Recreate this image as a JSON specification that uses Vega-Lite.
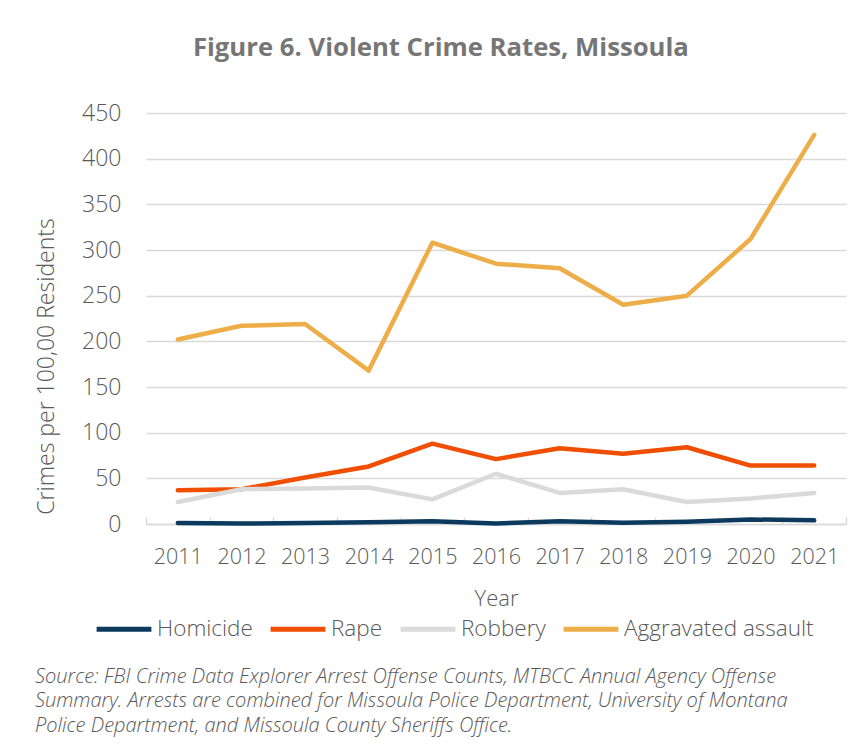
{
  "$schema": "https://vega.github.io/schema/vega-lite/v6.json",
  "background": "white",
  "padding": {"left": 34, "top": 35, "right": 15, "bottom": 10},
  "title": {"text": "Figure 6. Violent Crime Rates, Missoula", "fontSize": 25.7, "font": "Open Sans", "fontWeight": "bold", "color": "#767676", "anchor": "middle", "offset": 40},
  "vconcat": [
    {
      "width": 700,
      "height": 411,
      "title": {
        "text": [
          "Source: FBI Crime Data Explorer Arrest Offense Counts, MTBCC Annual Agency Offense",
          "Summary. Arrests are combined for Missoula Police Department, University of Montana",
          "Police Department, and Missoula County Sheriffs Office."
        ],
        "orient": "bottom",
        "anchor": "start",
        "font": "Open Sans",
        "fontStyle": "italic",
        "fontSize": 20,
        "fontWeight": 300,
        "color": "#595959",
        "lineHeight": 24.5,
        "offset": 57
      },
      "data": {
        "values": [
          {"year": "2011", "crime": "Homicide", "value": 1},
          {"year": "2012", "crime": "Homicide", "value": 0.5},
          {"year": "2013", "crime": "Homicide", "value": 1},
          {"year": "2014", "crime": "Homicide", "value": 2},
          {"year": "2015", "crime": "Homicide", "value": 3},
          {"year": "2016", "crime": "Homicide", "value": 0.5},
          {"year": "2017", "crime": "Homicide", "value": 3},
          {"year": "2018", "crime": "Homicide", "value": 1.5},
          {"year": "2019", "crime": "Homicide", "value": 2.5},
          {"year": "2020", "crime": "Homicide", "value": 5},
          {"year": "2021", "crime": "Homicide", "value": 4},
          {"year": "2011", "crime": "Rape", "value": 37},
          {"year": "2012", "crime": "Rape", "value": 38},
          {"year": "2013", "crime": "Rape", "value": 51},
          {"year": "2014", "crime": "Rape", "value": 63},
          {"year": "2015", "crime": "Rape", "value": 88},
          {"year": "2016", "crime": "Rape", "value": 71},
          {"year": "2017", "crime": "Rape", "value": 83},
          {"year": "2018", "crime": "Rape", "value": 77},
          {"year": "2019", "crime": "Rape", "value": 84},
          {"year": "2020", "crime": "Rape", "value": 64},
          {"year": "2021", "crime": "Rape", "value": 64},
          {"year": "2011", "crime": "Robbery", "value": 24},
          {"year": "2012", "crime": "Robbery", "value": 38},
          {"year": "2013", "crime": "Robbery", "value": 39},
          {"year": "2014", "crime": "Robbery", "value": 40},
          {"year": "2015", "crime": "Robbery", "value": 27},
          {"year": "2016", "crime": "Robbery", "value": 55},
          {"year": "2017", "crime": "Robbery", "value": 34},
          {"year": "2018", "crime": "Robbery", "value": 38},
          {"year": "2019", "crime": "Robbery", "value": 24},
          {"year": "2020", "crime": "Robbery", "value": 28},
          {"year": "2021", "crime": "Robbery", "value": 34},
          {"year": "2011", "crime": "Aggravated assault", "value": 202},
          {"year": "2012", "crime": "Aggravated assault", "value": 217},
          {"year": "2013", "crime": "Aggravated assault", "value": 219},
          {"year": "2014", "crime": "Aggravated assault", "value": 168},
          {"year": "2015", "crime": "Aggravated assault", "value": 308},
          {"year": "2016", "crime": "Aggravated assault", "value": 285},
          {"year": "2017", "crime": "Aggravated assault", "value": 280},
          {"year": "2018", "crime": "Aggravated assault", "value": 240},
          {"year": "2019", "crime": "Aggravated assault", "value": 250},
          {"year": "2020", "crime": "Aggravated assault", "value": 312},
          {"year": "2021", "crime": "Aggravated assault", "value": 426}
        ]
      },
      "mark": {"type": "line", "strokeWidth": 4.5, "strokeCap": "round", "strokeJoin": "round"},
      "encoding": {
        "x": {
          "field": "year",
          "type": "ordinal",
          "bandPosition": 0.5,
          "scale": {"type": "band", "paddingInner": 0, "paddingOuter": 0},
          "axis": {
            "labelAngle": 0,
            "labelFont": "Open Sans",
            "labelFontSize": 21.5,
            "labelFontWeight": 300,
            "labelColor": "#595959",
            "labelPadding": 29,
            "domain": true,
            "domainColor": "#d9d9d9",
            "domainWidth": 1.5,
            "ticks": true,
            "tickBand": "extent",
            "tickColor": "#d9d9d9",
            "tickWidth": 1.5,
            "tickSize": -7,
            "title": "Year",
            "titleFont": "Open Sans",
            "titleFontSize": 22,
            "titleFontWeight": 300,
            "titleColor": "#595959",
            "titlePadding": 21
          }
        },
        "y": {
          "field": "value",
          "type": "quantitative",
          "scale": {"domain": [0, 450], "nice": false},
          "axis": {
            "values": [0, 50, 100, 150, 200, 250, 300, 350, 400, 450],
            "grid": true,
            "gridColor": "#d9d9d9",
            "gridWidth": 1.5,
            "domain": false,
            "ticks": false,
            "labelPadding": 25,
            "labelFont": "Open Sans",
            "labelFontSize": 23,
            "labelFontWeight": 300,
            "labelColor": "#595959",
            "title": "Crimes per 100,00 Residents",
            "titleFont": "Open Sans",
            "titleFontSize": 23,
            "titleFontWeight": 300,
            "titleColor": "#595959",
            "titleBaseline": "middle",
            "titleX": -100,
            "titleY": 253
          }
        },
        "color": {
          "field": "crime",
          "type": "nominal",
          "scale": {
            "domain": ["Homicide", "Rape", "Robbery", "Aggravated assault"],
            "range": ["#0b3a5e", "#f04e00", "#dadada", "#edae49"]
          },
          "legend": {
            "orient": "none",
            "legendX": -52,
            "legendY": 486,
            "direction": "horizontal",
            "title": null,
            "symbolType": "stroke",
            "symbolSize": 3000,
            "symbolStrokeWidth": 5,
            "labelFont": "Open Sans",
            "labelFontSize": 22.5,
            "labelFontWeight": 300,
            "labelColor": "#595959",
            "labelOffset": 3,
            "labelLimit": 400,
            "columnPadding": 7
          }
        }
      }
    }
  ],
  "config": {"view": {"stroke": null}}
}
